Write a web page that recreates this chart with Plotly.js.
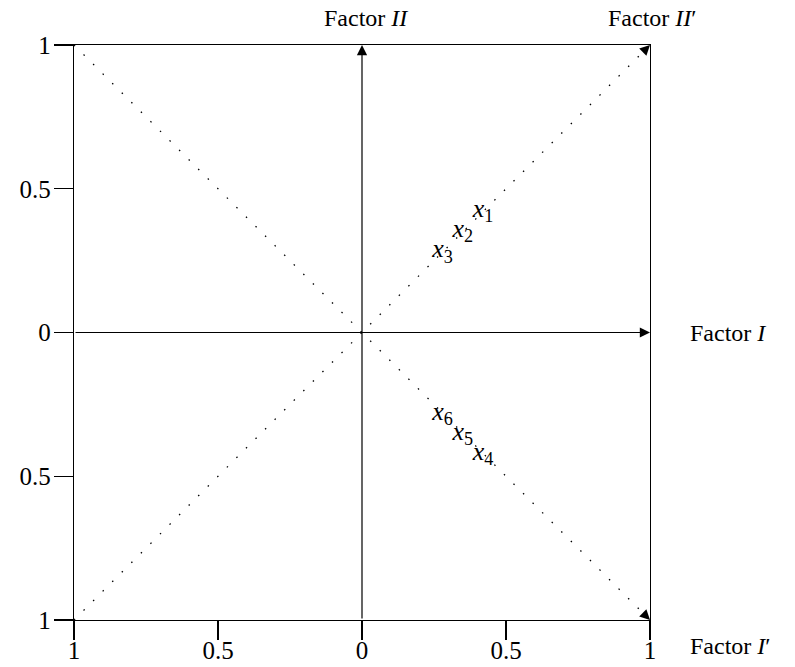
<!DOCTYPE html>
<html>
<head>
<meta charset="utf-8">
<script src="https://cdn.plot.ly/plotly-3.0.1.min.js"></script>
<style>html,body{margin:0;padding:0;background:#fff;}#chart{width:795px;height:667px;}</style>
</head>
<body>
<div id="chart"></div>
<script>
// Data
const tickVals = [-1, -0.5, 0, 0.5, 1];
const tickText = ["1", "0.5", "0", "0.5", "1"];
const diagUpX = [-1, 1], diagUpY = [-1, 1];
const diagDownX = [-1, 1], diagDownY = [1, -1];
const pointLabels = ["<i>x</i><sub>1</sub>", "<i>x</i><sub>2</sub>", "<i>x</i><sub>3</sub>",
                     "<i>x</i><sub>4</sub>", "<i>x</i><sub>5</sub>", "<i>x</i><sub>6</sub>"];
const pointX = [0.42, 0.35, 0.28, 0.42, 0.35, 0.28];
const pointY = [0.425, 0.355, 0.285, -0.42, -0.35, -0.28];
const axisLabels = ["Factor <i>I</i>", "Factor <i>II</i>", "Factor <i>I</i>′", "Factor <i>II</i>′"];

const FONT = "Liberation Serif";
const fs = 24;

const traces = [
  {x: diagUpX, y: diagUpY, mode: 'lines', line: {color: '#000', width: 1.3, dash: '1.5px,12px'}, hoverinfo: 'skip'},
  {x: diagDownX, y: diagDownY, mode: 'lines', line: {color: '#000', width: 1.3, dash: '1.5px,12px'}, hoverinfo: 'skip'},
  {x: pointX, y: pointY, mode: 'text', text: pointLabels, textposition: 'middle center',
   textfont: {family: FONT, size: 26, color: '#000'}, hoverinfo: 'skip', cliponaxis: false}
];

const arrowCommon = {showarrow: true, arrowhead: 2, arrowsize: 1.7, arrowwidth: 1.2, arrowcolor: '#000', standoff: 0, text: ''};
const labelFont = {family: FONT, size: fs, color: '#000'};

const annotations = [
  Object.assign({x: 0, y: 1, ax: 0, ay: -1, axref: 'x', ayref: 'y', xref: 'x', yref: 'y'}, arrowCommon),
  Object.assign({x: 1, y: 0, ax: -1, ay: 0, axref: 'x', ayref: 'y', xref: 'x', yref: 'y'}, arrowCommon),
  Object.assign({x: diagUpX[1], y: diagUpY[1], ax: -6, ay: 6, xref: 'x', yref: 'y'}, arrowCommon),
  Object.assign({x: diagDownX[1], y: diagDownY[1], ax: -6, ay: -6, xref: 'x', yref: 'y'}, arrowCommon),
  {x: 1.066, y: 0.5, xref: 'paper', yref: 'paper', text: axisLabels[0], showarrow: false, xanchor: 'left', yanchor: 'middle', font: labelFont},
  {x: 0.507, y: 1.047, xref: 'paper', yref: 'paper', text: axisLabels[1], showarrow: false, xanchor: 'center', yanchor: 'middle', font: labelFont},
  {x: 1.066, y: -0.045, xref: 'paper', yref: 'paper', text: axisLabels[2], showarrow: false, xanchor: 'left', yanchor: 'middle', font: labelFont},
  {x: 1.005, y: 1.047, xref: 'paper', yref: 'paper', text: axisLabels[3], showarrow: false, xanchor: 'center', yanchor: 'middle', font: labelFont}
];

const axisCommon = {
  range: [-1, 1], tickvals: tickVals, ticktext: tickText,
  ticks: 'outside', ticklen: 19, tickwidth: 1.2, tickcolor: '#000',
  showline: true, mirror: true, linecolor: '#000', linewidth: 1.2,
  showgrid: false, zeroline: false, fixedrange: true,
  tickfont: {family: FONT, size: 25, color: '#000'}
};

const layout = {
  width: 795, height: 667,
  margin: {l: 74, r: 145, t: 45, b: 47},
  paper_bgcolor: '#fff', plot_bgcolor: '#fff',
  showlegend: false,
  xaxis: Object.assign({}, axisCommon, {ticklabelstandoff: -11}),
  yaxis: Object.assign({}, axisCommon, {ticklabelstandoff: -2}),
  annotations: annotations
};

Plotly.newPlot('chart', traces, layout, {staticPlot: true, displayModeBar: false});
</script>
</body>
</html>
